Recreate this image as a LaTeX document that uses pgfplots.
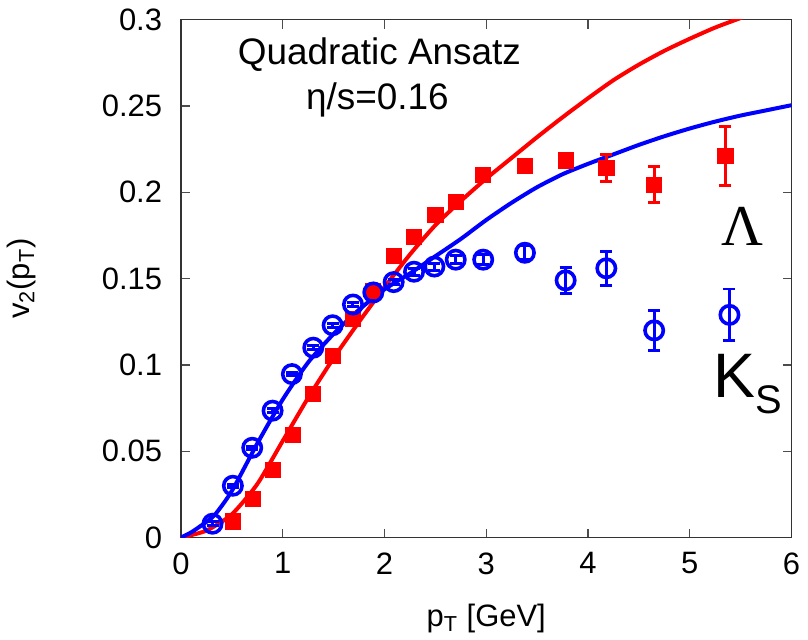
\documentclass[border=0pt]{standalone}
\usepackage{fontspec}
\setmainfont{Liberation Sans}
\newfontfamily\serifgr{Liberation Serif}
\usepackage{pgfplots}
\pgfplotsset{compat=1.18}

% measured data, v2 vs pT
\pgfplotstableread{
x     y      e
0.51  0.0093 0.0012
0.71  0.0224 0.0012
0.90  0.0390 0.0012
1.10  0.0594 0.0012
1.30  0.0830 0.0012
1.49  0.1050 0.0012
1.69  0.1265 0.0015
1.89  0.1430 0.0015
2.09  0.1630 0.0015
2.29  0.1740 0.0015
2.50  0.1870 0.0015
2.70  0.1945 0.0020
2.97  0.2100 0.0020
3.38  0.2155 0.0025
3.78  0.2185 0.0035
4.18  0.2140 0.0080
4.65  0.2045 0.0105
5.35  0.2210 0.0170
}\lambdadata
\pgfplotstableread{
x     y      e
0.31  0.0080 0.0010
0.51  0.0300 0.0010
0.70  0.0520 0.0010
0.90  0.0735 0.0010
1.09  0.0947 0.0010
1.30  0.1100 0.0012
1.49  0.1230 0.0012
1.69  0.1350 0.0012
1.89  0.1420 0.0015
2.09  0.1480 0.0015
2.29  0.1540 0.0020
2.49  0.1570 0.0020
2.70  0.1610 0.0025
2.97  0.1610 0.0030
3.38  0.1650 0.0040
3.78  0.1490 0.0074
4.18  0.1560 0.0098
4.65  0.1200 0.0114
5.39  0.1290 0.0150
}\kaondata

\begin{document}
\begin{tikzpicture}
\begin{axis}[
  scale only axis,
  width=306bp, height=259.5bp,
  xmin=0, xmax=6, ymin=0, ymax=0.3,
  xtick={0,1,2,3,4,5,6},
  ytick={0,0.05,0.1,0.15,0.2,0.25,0.3},
  yticklabel style={/pgf/number format/fixed, /pgf/number format/precision=2, xshift=-6bp},
  xticklabel style={yshift=-4bp},
  /pgf/number format/assume math mode=true,
  tick align=inside,
  major tick length=4.5bp,
  tick style={black!70, line width=0.6bp},
  axis line style={black!80, line width=0.7bp},
  ticklabel style={font=\fontsize{15.5bp}{17bp}\selectfont},
  xlabel={p\textsubscript{T} [GeV]},
  ylabel={v\textsubscript{2}(p\textsubscript{T})},
  label style={font=\fontsize{15.5bp}{17bp}\selectfont},
  xlabel style={at={(axis description cs:0.5,-0.156)}, anchor=center},
  ylabel style={at={(axis description cs:-0.262,0.5)}, anchor=center},
  clip=true,
]
% hydro curves
\addplot[red, line width=2bp, smooth, tension=0.4] coordinates {
(0,0) (0.25,0.004) (0.5,0.0135) (0.75,0.031) (1.0,0.056) (1.25,0.081)
(1.5,0.104) (1.75,0.125) (2.0,0.145) (2.25,0.164) (2.5,0.181) (2.75,0.195)
(3.0,0.208) (3.25,0.220) (3.5,0.232) (3.75,0.2435) (4.0,0.2545) (4.25,0.265)
(4.5,0.274) (4.75,0.282) (5.0,0.289) (5.25,0.2955) (5.5,0.301) (5.6,0.303)};
\addplot[blue, line width=2bp, smooth, tension=0.4] coordinates {
(0,0) (0.1,0.003) (0.2,0.007) (0.33,0.013) (0.5,0.027) (0.75,0.0545)
(1.0,0.080) (1.25,0.1015) (1.5,0.118) (1.75,0.132) (2.0,0.1438) (2.25,0.153)
(2.5,0.163) (2.75,0.173) (3.0,0.184) (3.25,0.194) (3.5,0.203) (3.75,0.2105)
(4.0,0.2165) (4.25,0.222) (4.5,0.2275) (4.75,0.2325) (5.0,0.237) (5.25,0.241)
(5.5,0.2445) (5.75,0.2475) (6.0,0.2505)};
% data
\addplot[red, only marks, mark=square*, mark size=3.8bp,
  error bars/.cd, y dir=both, y explicit,
  error bar style={line width=1.5bp},
  error mark options={rotate=90, mark size=3bp, line width=1.5bp}]
  table[x=x, y=y, y error=e] {\lambdadata};
\addplot[blue, only marks, mark=o, mark size=4.6bp, mark options={line width=1.8bp},
  error bars/.cd, y dir=both, y explicit,
  error bar style={line width=1.5bp},
  error mark options={rotate=90, mark size=3bp, line width=1.5bp}]
  table[x=x, y=y, y error=e] {\kaondata};
\node[font=\fontsize{18.5bp}{20bp}\selectfont] at (axis cs:1.95,0.2797) {Quadratic Ansatz};
\node[font=\fontsize{18.5bp}{20bp}\selectfont] at (axis cs:1.93,0.2536) {η/s=0.16};
\node[font=\fontsize{29bp}{31bp}\selectfont\serifgr] at (axis cs:5.515,0.180) {Λ};
\node[font=\fontsize{31.5bp}{33bp}\selectfont, anchor=base west, inner sep=0pt] at (axis cs:5.23,0.0812)
  {K\raisebox{-8.3bp}{\fontsize{20bp}{21bp}\selectfont S}};
\end{axis}
\path[use as bounding box] ([xshift=-89.75bp,yshift=-50.1bp]current axis.south west)
  rectangle ([xshift=8.25bp,yshift=9.9bp]current axis.north east);
\end{tikzpicture}
\end{document}
